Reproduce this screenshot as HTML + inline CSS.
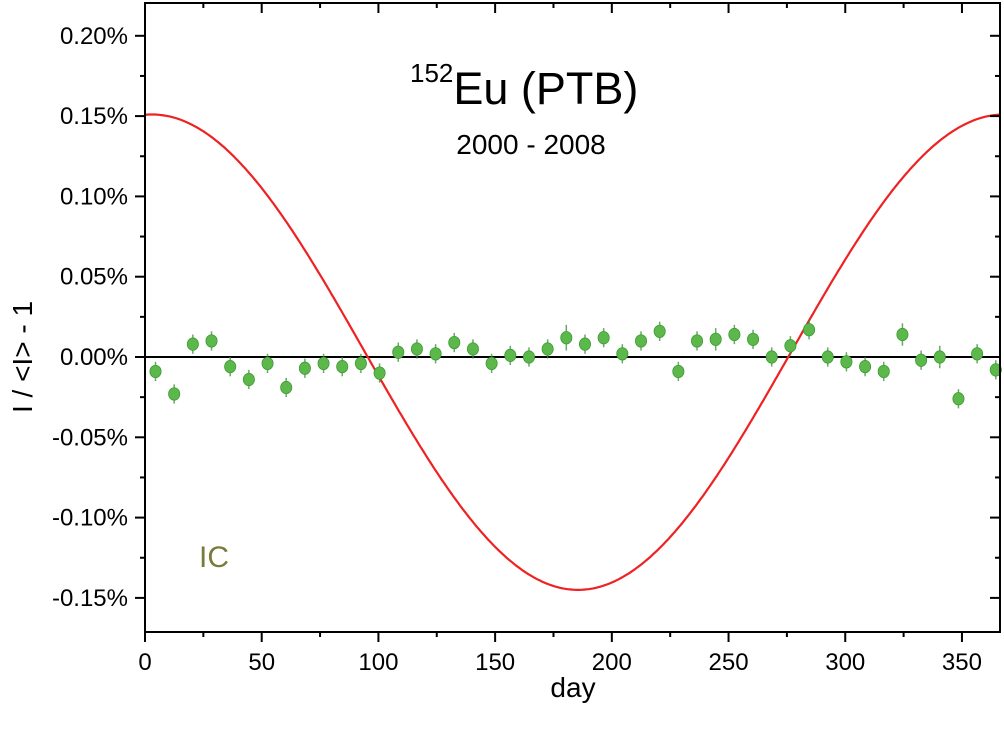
<!DOCTYPE html>
<html><head><meta charset="utf-8"><style>
body{margin:0;background:#fff;width:1004px;height:731px;overflow:hidden}
svg{font-family:"Liberation Sans",Arial,sans-serif}
</style></head><body>
<svg id="chart" width="1004" height="731" viewBox="0 0 1004 731"></svg>
<script>
const days=[];for(let i=0;i<46;i++)days.push(4.5+8*i);
const values=[-0.009,-0.023,0.008,0.010,-0.006,-0.014,-0.004,-0.019,-0.007,-0.004,-0.006,-0.004,-0.010,0.003,0.005,0.002,0.009,0.005,-0.004,0.001,0.000,0.005,0.012,0.008,0.012,0.002,0.010,0.016,-0.009,0.010,0.011,0.014,0.011,0.000,0.007,0.017,0.000,-0.003,-0.006,-0.009,0.014,-0.002,0.000,-0.026,0.002,-0.008];
const errors=[0.006,0.006,0.006,0.006,0.006,0.006,0.006,0.006,0.006,0.006,0.006,0.006,0.006,0.006,0.006,0.006,0.006,0.006,0.006,0.006,0.006,0.006,0.008,0.006,0.006,0.006,0.006,0.006,0.006,0.006,0.007,0.006,0.006,0.006,0.006,0.006,0.006,0.006,0.006,0.006,0.007,0.006,0.007,0.006,0.006,0.006];
const fitOffset=0.003, fitAmp=0.148, period=365, fitPhase=3.0;
const xTicks=[0,50,100,150,200,250,300,350];
const yTicks=[-0.15,-0.10,-0.05,0.00,0.05,0.10,0.15,0.20];
const yLabels=["-0.15%","-0.10%","-0.05%","0.00%","0.05%","0.10%","0.15%","0.20%"];

const L=145,R=1000,T=3,B=632;
const X=d=>L+(d-0)*(R-L)/366.3;
const Y=v=>357-v*1606;
const svg=document.getElementById('chart');
const NS='http://www.w3.org/2000/svg';
function mk(t,a,p){const e=document.createElementNS(NS,t);for(const k in a)e.setAttribute(k,a[k]);(p||svg).appendChild(e);return e;}

let z=mk('line',{x1:L,x2:R,y1:Y(0),y2:Y(0),stroke:'#000','stroke-width':2});



let pts=[];for(let d=0;d<=366.3;d+=1)pts.push(X(d).toFixed(1)+','+Y(fitOffset+fitAmp*Math.cos(2*Math.PI*(d-fitPhase)/period)).toFixed(1));
let c=mk('polyline',{points:pts.join(' '),fill:'none',stroke:'#ee2222','stroke-width':2.2});



const g=mk('g',{});


days.forEach((d,i)=>{
  const eb=mk('line',{x1:X(d),x2:X(d),y1:Y(values[i]+errors[i]),y2:Y(values[i]-errors[i]),stroke:'#3a8a3a','stroke-width':1.5,opacity:0.75},g);
  
  
  const p=mk('ellipse',{cx:X(d),cy:Y(values[i]),rx:5.6,ry:6.2,fill:'#5cb84a',stroke:'#3c9a34','stroke-width':0.8},g);
  
  
});

let f=mk('rect',{x:L,y:T,width:R-L,height:B-T,fill:'none',stroke:'#000','stroke-width':2});



for(let d=0;d<=366;d+=25){const maj=d%50===0,len=maj?10:5;
  mk('line',{x1:X(d),x2:X(d),y1:B,y2:B+len,stroke:'#000','stroke-width':2});
  mk('line',{x1:X(d),x2:X(d),y1:T,y2:T+len,stroke:'#000','stroke-width':2});}
xTicks.forEach(d=>{const t=mk('text',{x:X(d),y:670,'text-anchor':'middle','font-size':24});t.textContent=d;
  
  });
for(let v=-0.15;v<=0.221;v+=0.025){const vv=Math.round(v*1000)/1000;const maj=Math.abs(Math.round(vv/0.05)*0.05-vv)<1e-6,len=maj?10:5;
  mk('line',{x1:L-len,x2:L,y1:Y(vv),y2:Y(vv),stroke:'#000','stroke-width':2});
  mk('line',{x1:R-len,x2:R,y1:Y(vv),y2:Y(vv),stroke:'#000','stroke-width':2});}
yTicks.forEach((v,i)=>{const t=mk('text',{x:128,y:Y(v)+8,'text-anchor':'end','font-size':24});t.textContent=yLabels[i];
  
  });
</script>
<svg style="position:absolute;left:0;top:0" width="1004" height="731">
<text x="573" y="697" text-anchor="middle" font-size="28">day</text>
<text transform="translate(32,357) rotate(-90)" text-anchor="middle" font-size="28">I / &lt;I&gt; - 1</text>
<text x="410" y="104" font-size="45"><tspan font-size="26" dy="-22">152</tspan><tspan dy="22">Eu (PTB)</tspan></text>
<text x="531" y="154" text-anchor="middle" font-size="28">2000 - 2008</text>
<text x="199" y="567" font-size="30" fill="#7a7a3a">IC</text>
</svg>
</body></html>
